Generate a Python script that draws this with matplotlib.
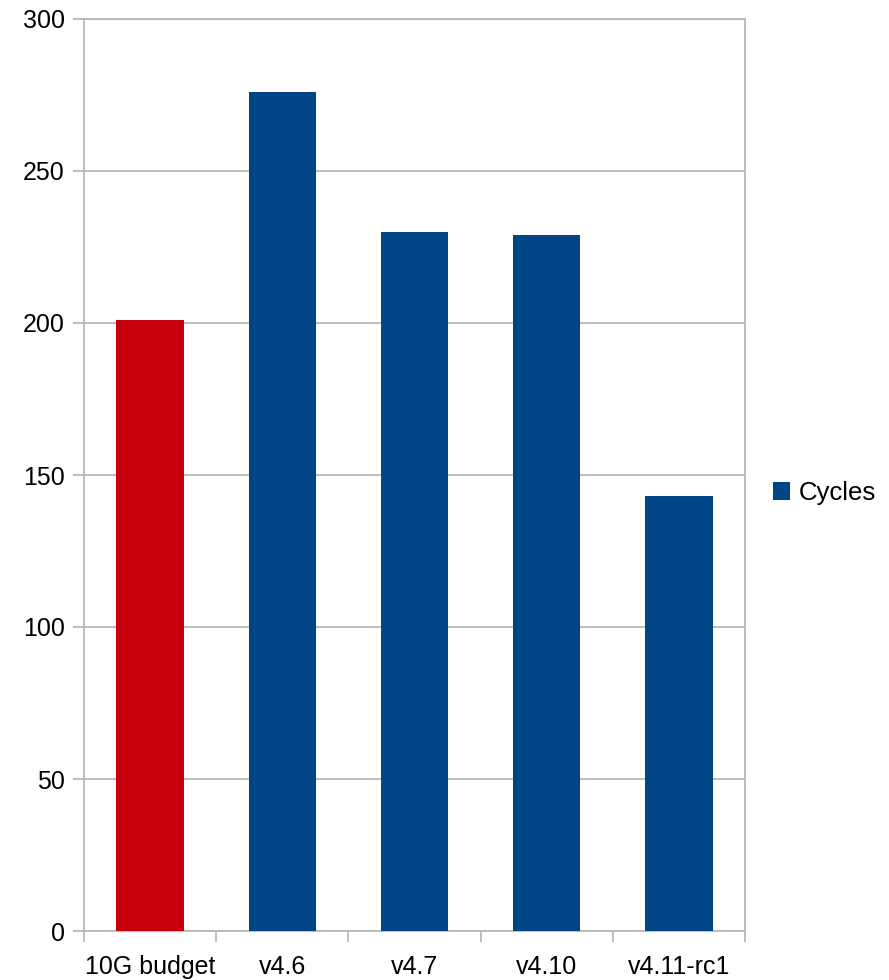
import matplotlib.pyplot as plt
from matplotlib.patches import Patch

labels = ["10G budget", "v4.6", "v4.7", "v4.10", "v4.11-rc1"]
cycles = [201, 276, 230, 229, 143]
bar_colors = ["#c5000b", "#004586", "#004586", "#004586", "#004586"]
yticks = [0, 50, 100, 150, 200, 250, 300]

plt.rcParams["font.family"] = ["Liberation Sans", "DejaVu Sans"]
grey = "#b3b3b3"

f = plt.figure(figsize=(8.89, 9.8), dpi=100)
ax = f.add_axes([84 / 889, 49 / 980, 661 / 889, 912 / 980])

x = list(range(len(labels)))
ax.bar(x, cycles, width=0.51, color=bar_colors, zorder=3)

ax.set_xlim(-0.5, len(labels) - 0.5)
ax.set_ylim(0, 300)
ax.set_yticks(yticks)
ax.yaxis.grid(True, color=grey, linewidth=1.2, zorder=0)

# labels sit in the middle of each category, tick marks on the boundaries
ax.set_xticks(x)
ax.set_xticklabels(labels)
ax.set_xticks([i - 0.5 for i in range(len(labels) + 1)], minor=True)
ax.tick_params(axis="x", which="major", length=0, pad=17, labelsize=18)
ax.tick_params(axis="x", which="minor", length=8, width=1.2, color=grey)
ax.tick_params(axis="y", length=8, width=1.2, color=grey, pad=6, labelsize=18)

for s in ax.spines.values():
    s.set_color(grey)
    s.set_linewidth(1.2)

handle = Patch(facecolor="#004586", edgecolor="none", label="Cycles")
f.legend(handles=[handle], loc="center left",
         bbox_to_anchor=(760 / 889, 1 - 493 / 980),
         frameon=False, fontsize=18.5, handlelength=0.65, handleheight=0.65,
         handletextpad=0.35, borderpad=0)

f.savefig("out.png", dpi=100)
